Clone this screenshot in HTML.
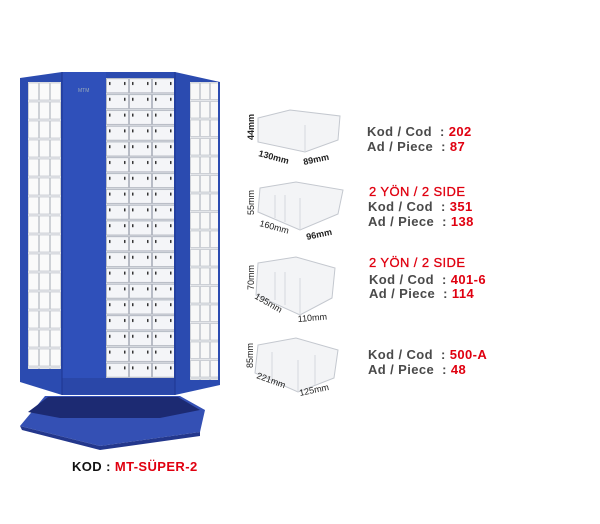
<!DOCTYPE html>
<html><head><meta charset="utf-8"><style>
body{margin:0;background:#fff;}
.t{position:absolute;font-family:"Liberation Sans",sans-serif;font-weight:bold;font-size:13px;color:#4a4a4a;white-space:pre;letter-spacing:0.4px;}
.r{color:#e00010;}
</style></head><body>
<div style="position:relative;width:600px;height:524px;overflow:hidden">
<svg width="600" height="524" style="position:absolute;left:0;top:0">
<defs>
<pattern id="dl" x="28" y="82" width="11" height="19" patternUnits="userSpaceOnUse">
<rect width="11" height="19" fill="#e8eaee"/><rect x="0.5" y="1" width="10" height="17" fill="#fafafa" stroke="#b8bcc4" stroke-width="0.6"/>
</pattern>
<pattern id="dc" x="106" y="78" width="23" height="15.8" patternUnits="userSpaceOnUse">
<rect width="23" height="15.8" fill="#d8dbe2"/><rect x="0.5" y="0.8" width="22" height="14" fill="#f4f5f8" stroke="#9aa0ac" stroke-width="0.6"/>
<rect x="3" y="4" width="1.5" height="3" fill="#333"/><rect x="18" y="4" width="1.5" height="3" fill="#333"/>
</pattern>
<pattern id="dr" x="190" y="82" width="10" height="18.5" patternUnits="userSpaceOnUse">
<rect width="10" height="18.5" fill="#e4e6ea"/><rect x="0.5" y="1" width="9" height="16.5" fill="#f8f8f8" stroke="#b8bcc4" stroke-width="0.6"/>
</pattern>
</defs>
<!-- base -->
<polygon points="45,396 180,396 205,410 200,432 100,446 20,426" fill="#3450b4"/>
<polygon points="48,397 178,397 200,410 160,418 60,418 28,412" fill="#1c2a72"/>
<polygon points="20,426 100,446 200,432 200,436 100,450 22,430" fill="#23378c"/>
<!-- rack body -->
<polygon points="20,78 62,72 175,72 220,82 220,385 175,395 62,395 20,382" fill="#2b4bb0"/>
<rect x="62" y="72" width="44" height="320" fill="#2f50ba"/>
<rect x="28" y="82" width="33" height="287" fill="url(#dl)"/>
<rect x="106" y="78" width="68" height="300" fill="url(#dc)"/>
<rect x="190" y="82" width="28" height="298" fill="url(#dr)"/>
<rect x="62" y="378" width="113" height="16" fill="#2a47a8"/>
<line x1="62" y1="72" x2="62" y2="395" stroke="#1e3590" stroke-width="1"/>
<line x1="175" y1="72" x2="175" y2="395" stroke="#1e3590" stroke-width="1"/>
<text x="78" y="92" font-family="Liberation Sans" font-size="5" fill="#9ab">MTM</text>
<!-- bins -->
<g fill="#f3f4f6" stroke="#c4c8cf" stroke-width="1">
<polygon points="258,118 290,110 340,116 338,140 305,152 258,142"/>
<polygon points="260,188 296,182 343,190 338,214 300,230 258,212"/>
<polygon points="258,263 296,257 335,268 332,298 300,315 256,295"/>
<polygon points="258,345 296,338 338,350 334,378 298,392 255,373"/>
</g>
<g stroke="#d6d9de" stroke-width="1" fill="none">
<line x1="305" y1="125" x2="305" y2="152"/><line x1="300" y1="198" x2="300" y2="230"/>
<line x1="300" y1="278" x2="300" y2="315"/><line x1="298" y1="360" x2="298" y2="392"/>
<line x1="275" y1="195" x2="275" y2="218"/><line x1="275" y1="272" x2="275" y2="300"/>
<line x1="285" y1="195" x2="285" y2="222"/><line x1="285" y1="272" x2="285" y2="305"/>
<line x1="272" y1="352" x2="272" y2="380"/><line x1="315" y1="355" x2="315" y2="385"/>
</g>
<g font-family="Liberation Sans" font-size="9" fill="#222">
<text transform="translate(254,140) rotate(-90)" font-weight="bold">44mm</text>
<text transform="translate(258,156) rotate(15)" font-weight="bold">130mm</text>
<text transform="translate(304,165) rotate(-12)" font-weight="bold">89mm</text>
<text transform="translate(254,215) rotate(-90)">55mm</text>
<text transform="translate(259,226) rotate(15)">160mm</text>
<text transform="translate(307,240) rotate(-12)" font-weight="bold">96mm</text>
<text transform="translate(254,290) rotate(-90)">70mm</text>
<text transform="translate(254,298) rotate(30)">195mm</text>
<text transform="translate(298,322) rotate(-5)">110mm</text>
<text transform="translate(253,368) rotate(-90)">85mm</text>
<text transform="translate(256,378) rotate(20)">221mm</text>
<text transform="translate(300,396) rotate(-12)">125mm</text>
</g>
</svg>
<div class="t" style="left:367px;top:124px">Kod / Cod  : <span class="r">202</span></div>
<div class="t" style="left:367px;top:139px">Ad / Piece  : <span class="r">87</span></div>
<div class="t r" style="left:369px;top:184px;font-weight:normal;-webkit-text-stroke:0.3px #e00010">2 YÖN / 2 SIDE</div>
<div class="t" style="left:368px;top:199px">Kod / Cod  : <span class="r">351</span></div>
<div class="t" style="left:368px;top:214px">Ad / Piece  : <span class="r">138</span></div>
<div class="t r" style="left:369px;top:255px;font-weight:normal;-webkit-text-stroke:0.3px #e00010">2 YÖN / 2 SIDE</div>
<div class="t" style="left:369px;top:272px">Kod / Cod  : <span class="r">401-6</span></div>
<div class="t" style="left:369px;top:286px">Ad / Piece  : <span class="r">114</span></div>
<div class="t" style="left:368px;top:347px">Kod / Cod  : <span class="r">500-A</span></div>
<div class="t" style="left:368px;top:362px">Ad / Piece  : <span class="r">48</span></div>
<div class="t" style="left:72px;top:459px;color:#111">KOD : <span class="r">MT-SÜPER-2</span></div>
</div>
</body></html>
